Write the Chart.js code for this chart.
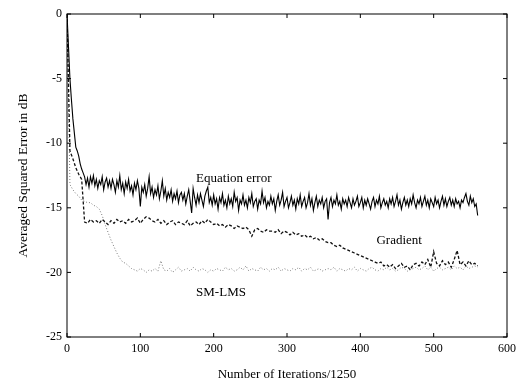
<!DOCTYPE html>
<html>
<head>
    <title>Averaged Squared Error</title>
    <style>
        body {
            background-color: #ffffff;
            margin: 0;
        }
        canvas {
            display: block;
        }
    </style>
</head>
<body>
    <canvas id="errorChart" width="521" height="385"></canvas>

    <script src="https://cdn.jsdelivr.net/npm/chart.js"></script>
    <script>
        // equation error is read every 2 iterations (x 1250), the other two every 4
        const iterationsFine = [
            0, 2, 4, 6, 8, 10, 12, 14, 16, 18,
            20, 22, 24, 26, 28, 30, 32, 34, 36, 38,
            40, 42, 44, 46, 48, 50, 52, 54, 56, 58,
            60, 62, 64, 66, 68, 70, 72, 74, 76, 78,
            80, 82, 84, 86, 88, 90, 92, 94, 96, 98,
            100, 102, 104, 106, 108, 110, 112, 114, 116, 118,
            120, 122, 124, 126, 128, 130, 132, 134, 136, 138,
            140, 142, 144, 146, 148, 150, 152, 154, 156, 158,
            160, 162, 164, 166, 168, 170, 172, 174, 176, 178,
            180, 182, 184, 186, 188, 190, 192, 194, 196, 198,
            200, 202, 204, 206, 208, 210, 212, 214, 216, 218,
            220, 222, 224, 226, 228, 230, 232, 234, 236, 238,
            240, 242, 244, 246, 248, 250, 252, 254, 256, 258,
            260, 262, 264, 266, 268, 270, 272, 274, 276, 278,
            280, 282, 284, 286, 288, 290, 292, 294, 296, 298,
            300, 302, 304, 306, 308, 310, 312, 314, 316, 318,
            320, 322, 324, 326, 328, 330, 332, 334, 336, 338,
            340, 342, 344, 346, 348, 350, 352, 354, 356, 358,
            360, 362, 364, 366, 368, 370, 372, 374, 376, 378,
            380, 382, 384, 386, 388, 390, 392, 394, 396, 398,
            400, 402, 404, 406, 408, 410, 412, 414, 416, 418,
            420, 422, 424, 426, 428, 430, 432, 434, 436, 438,
            440, 442, 444, 446, 448, 450, 452, 454, 456, 458,
            460, 462, 464, 466, 468, 470, 472, 474, 476, 478,
            480, 482, 484, 486, 488, 490, 492, 494, 496, 498,
            500, 502, 504, 506, 508, 510, 512, 514, 516, 518,
            520, 522, 524, 526, 528, 530, 532, 534, 536, 538,
            540, 542, 544, 546, 548, 550, 552, 554, 556, 558,
            560
        ];

        const iterations = [
            0, 4, 8, 12, 16, 20, 24, 28, 32, 36,
            40, 44, 48, 52, 56, 60, 64, 68, 72, 76,
            80, 84, 88, 92, 96, 100, 104, 108, 112, 116,
            120, 124, 128, 132, 136, 140, 144, 148, 152, 156,
            160, 164, 168, 172, 176, 180, 184, 188, 192, 196,
            200, 204, 208, 212, 216, 220, 224, 228, 232, 236,
            240, 244, 248, 252, 256, 260, 264, 268, 272, 276,
            280, 284, 288, 292, 296, 300, 304, 308, 312, 316,
            320, 324, 328, 332, 336, 340, 344, 348, 352, 356,
            360, 364, 368, 372, 376, 380, 384, 388, 392, 396,
            400, 404, 408, 412, 416, 420, 424, 428, 432, 436,
            440, 444, 448, 452, 456, 460, 464, 468, 472, 476,
            480, 484, 488, 492, 496, 500, 504, 508, 512, 516,
            520, 524, 528, 532, 536, 540, 544, 548, 552, 556,
            560
        ];

        const equationError = [
            0, -2.5, -5.0, -6.6, -8.1, -9.2, -10.3, -10.6, -11.0, -11.6,
            -12.0, -12.3, -12.6, -13.2, -12.7, -13.4, -12.6, -13.1, -12.5, -13.3,
            -12.8, -13.5, -12.9, -13.2, -12.6, -13.6, -13.0, -12.7, -13.4, -12.9,
            -13.5, -12.8, -13.2, -13.8, -12.9, -13.4, -12.5, -13.6, -13.1, -13.9,
            -13.0, -13.5, -12.8, -13.7, -13.3, -14.0, -13.1, -13.6, -12.9, -13.5,
            -14.9, -13.4, -13.8, -13.2, -14.1, -13.5, -12.6, -13.9, -13.4, -14.2,
            -13.6, -14.0, -13.3, -14.3, -13.7, -12.9, -14.1, -13.5, -14.4, -13.8,
            -14.2, -13.6, -14.5, -13.9, -14.3, -13.7, -14.6, -14.0, -13.8, -14.4,
            -13.9, -14.7, -14.1, -13.6, -14.5, -15.4, -13.5, -14.2, -14.8, -14.0,
            -14.6, -13.9, -14.4, -14.9, -14.1, -13.7, -13.4, -14.6, -14.2, -14.8,
            -14.0, -14.7, -14.3, -15.1, -14.2, -14.6, -13.9, -14.8, -14.4, -15.0,
            -14.1, -14.7, -14.3, -14.9, -13.8, -14.5, -14.2, -15.2, -14.4, -14.7,
            -14.0, -14.8, -14.4, -15.0, -14.2, -14.6, -13.9, -14.9, -14.5, -14.3,
            -15.1, -14.4, -14.7, -13.7, -14.6, -14.2, -15.0, -14.5, -14.8, -14.1,
            -14.7, -14.3, -15.2, -14.5, -14.0, -14.8, -14.4, -13.8, -14.9, -14.5,
            -14.2, -15.0, -14.6, -14.1, -14.8, -14.4, -15.1, -14.3, -14.7, -14.0,
            -14.9, -14.5, -14.2, -15.0, -14.6, -13.9, -14.8, -14.3, -15.2, -14.6,
            -14.1, -14.9, -14.4, -14.7, -14.2, -15.0, -14.5, -14.3, -15.9, -14.6,
            -14.2, -14.9, -14.4, -14.7, -14.0, -14.8, -14.5, -15.1, -14.3, -14.7,
            -14.4, -14.9, -14.2, -14.6, -15.0, -14.3, -14.8, -14.5, -14.1, -14.9,
            -14.6, -14.2, -15.0, -14.4, -14.8, -14.3, -14.7, -15.1, -14.5, -14.2,
            -14.9, -14.4, -14.7, -14.1, -15.0, -14.6, -14.3, -14.8, -14.5, -15.0,
            -14.3, -14.7, -14.2, -14.9, -14.5, -14.0, -14.8, -14.4, -15.1, -14.6,
            -14.2, -14.8, -14.4, -14.9, -14.3, -14.7, -14.0, -14.6, -15.0, -14.4,
            -14.7, -14.2, -14.9, -14.5, -14.1, -14.8, -14.4, -15.0, -14.3, -14.6,
            -14.9, -14.2, -14.7, -14.4, -15.0, -14.5, -14.1, -14.8, -14.3, -14.9,
            -14.5, -14.2, -14.8, -14.4, -14.9, -14.3, -14.7, -14.5, -15.0, -14.4,
            -14.6, -14.2, -13.9, -14.5, -14.8, -14.1, -14.6, -14.3, -14.9, -14.7,
            -15.6
        ];

        const gradient = [
            0, -10.6, -11.2, -11.9, -12.4, -12.8, -16.1, -16.2, -15.9, -16.1,
            -16.0, -16.2, -15.9, -16.1, -16.3, -16.0, -16.2, -15.9, -16.1, -16.0,
            -16.2, -15.9, -16.1, -16.0, -15.8, -16.2, -15.9, -15.7, -15.8, -16.0,
            -16.1, -15.9, -16.2, -16.0, -16.3, -16.1, -16.0, -16.3, -16.1, -16.2,
            -16.3, -16.0, -16.4, -16.2, -16.1, -16.3, -16.0, -16.2, -15.9, -16.1,
            -16.3, -16.2, -16.4, -16.3, -16.5, -16.3, -16.4, -16.6, -16.4, -16.5,
            -16.6, -16.5, -16.7, -17.2, -16.7, -16.6, -16.8, -16.9, -16.7, -16.8,
            -16.8, -16.9, -16.7, -17.0, -16.8, -16.9, -17.1, -16.9, -17.1, -17.0,
            -17.2, -17.1, -17.3, -17.2, -17.4, -17.3, -17.5, -17.4, -17.6, -17.7,
            -17.7, -17.9, -18.0, -17.9, -18.1, -18.2, -18.3, -18.4, -18.5, -18.6,
            -18.7, -18.8, -18.9, -19.0, -19.1, -19.2, -19.3, -19.2, -19.5, -19.4,
            -19.6, -19.4, -19.7, -19.5, -19.3, -19.6, -19.5, -19.8, -19.4, -19.3,
            -19.5, -19.2, -19.4, -19.0, -19.6, -18.4, -19.3, -19.5, -19.1, -19.4,
            -19.2, -19.6, -19.0, -18.3, -19.4, -19.2, -19.5, -19.1, -19.4, -19.3,
            -19.5
        ];

        const smLms = [
            0, -13.2, -13.6, -13.9, -14.1, -14.4, -14.5, -14.6, -14.6, -14.8,
            -14.9, -15.1, -15.6, -16.3, -16.9, -17.5, -18.0, -18.5, -18.9, -19.2,
            -19.3, -19.5, -19.7, -19.8, -19.9, -19.7, -19.8, -20.0, -19.8, -19.9,
            -19.7, -19.9, -19.1, -19.8, -19.9, -19.7, -20.0, -19.8, -19.6, -19.9,
            -19.8, -19.7, -19.9, -19.6, -19.8, -19.9, -19.7, -19.8, -20.0, -19.8,
            -19.9, -19.7, -19.8, -19.9, -19.6, -19.8, -19.7, -19.9, -19.8, -19.6,
            -19.8, -19.5, -19.9, -19.7, -19.8, -19.9, -19.6, -19.8, -19.7, -19.9,
            -19.7, -19.8, -19.6, -19.9, -19.7, -19.8, -19.9, -19.7, -19.8, -19.6,
            -19.9, -19.7, -19.8, -19.6, -19.9, -19.8, -19.7, -19.9, -19.8, -19.7,
            -19.8, -19.6, -19.9, -19.7, -19.8, -19.9, -19.7, -19.8, -19.6, -19.9,
            -19.7, -19.8, -19.9, -19.7, -19.6, -19.8, -19.9, -19.7, -19.8, -19.6,
            -19.8, -19.7, -19.9, -19.8, -19.6, -19.7, -19.9, -19.8, -19.7, -19.6,
            -19.8, -19.7, -19.5, -19.8, -19.6, -19.9, -19.7, -19.6, -19.8, -19.7,
            -19.6, -19.8, -19.5, -19.7, -19.6, -19.8, -19.5, -19.7, -19.6, -19.5,
            -19.6
        ];

        const xTicks = [0, 100, 200, 300, 400, 500, 600];
        const yTicks = [-25, -20, -15, -10, -5, 0];

        // curve labels, placed in data units
        const curveLabels = [
            { text: 'Equation error', x: 176, y: -12.75 },
            { text: 'Gradient', x: 422, y: -17.55 },
            { text: 'SM-LMS', x: 176, y: -21.6 }
        ];

        const serif = 'Liberation Serif';

        function toPoints(xs, values) {
            return values.map((v, i) => ({ x: xs[i], y: v }));
        }

        // box round the plot, inward ticks, curve labels
        const framePlugin = {
            id: 'frame',
            afterDraw(chart) {
                const ctx = chart.ctx;
                const xs = chart.scales.x;
                const ys = chart.scales.y;
                const l = xs.getPixelForValue(0), r = xs.getPixelForValue(600);
                const t = ys.getPixelForValue(0), b = ys.getPixelForValue(-25);
                ctx.save();
                ctx.strokeStyle = '#000';
                ctx.lineWidth = 1;
                ctx.strokeRect(l, t, r - l, b - t);
                ctx.beginPath();
                xTicks.forEach(v => {
                    const px = xs.getPixelForValue(v);
                    ctx.moveTo(px, b); ctx.lineTo(px, b - 4);
                    ctx.moveTo(px, t); ctx.lineTo(px, t + 4);
                });
                yTicks.forEach(v => {
                    const py = ys.getPixelForValue(v);
                    ctx.moveTo(l, py); ctx.lineTo(l + 4, py);
                    ctx.moveTo(r, py); ctx.lineTo(r - 4, py);
                });
                ctx.stroke();
                ctx.fillStyle = '#000';
                ctx.font = '13px "' + serif + '"';
                ctx.textAlign = 'left';
                ctx.textBaseline = 'middle';
                curveLabels.forEach(c => {
                    ctx.fillText(c.text, xs.getPixelForValue(c.x), ys.getPixelForValue(c.y));
                });
                ctx.restore();
            }
        };

        const ctx = document.getElementById('errorChart').getContext('2d');
        new Chart(ctx, {
            type: 'line',
            data: {
                datasets: [
                    {
                        label: 'Equation error',
                        data: toPoints(iterationsFine, equationError),
                        borderColor: '#000000',
                        borderWidth: 1.1
                    },
                    {
                        label: 'Gradient',
                        data: toPoints(iterations, gradient),
                        borderColor: '#111111',
                        borderWidth: 1.3,
                        borderDash: [3, 2]
                    },
                    {
                        label: 'SM-LMS',
                        data: toPoints(iterations, smLms),
                        borderColor: '#7a7a7a',
                        borderWidth: 1,
                        borderDash: [1, 2]
                    }
                ]
            },
            options: {
                responsive: false,
                animation: false,
                layout: {
                    padding: { top: 14, right: 12, left: 0, bottom: 0 }
                },
                elements: {
                    point: { radius: 0 },
                    line: { tension: 0 }
                },
                plugins: {
                    legend: { display: false },
                    tooltip: { enabled: false }
                },
                scales: {
                    x: {
                        type: 'linear',
                        min: 0,
                        max: 600,
                        afterFit: s => { s.height = 48; },
                        afterBuildTicks: s => { s.ticks = xTicks.map(v => ({ value: v })); },
                        grid: { display: false, drawTicks: false },
                        border: { display: false },
                        ticks: {
                            color: '#000',
                            padding: 5,
                            maxRotation: 0,
                            font: { family: serif, size: 12 }
                        },
                        title: {
                            display: true,
                            text: 'Number of Iterations/1250',
                            color: '#000',
                            font: { family: serif, size: 13 },
                            padding: { top: 0, bottom: 3 }
                        }
                    },
                    y: {
                        min: -25,
                        max: 0,
                        afterFit: s => { s.width = 67; },
                        afterBuildTicks: s => { s.ticks = yTicks.map(v => ({ value: v })); },
                        grid: { display: false, drawTicks: false },
                        border: { display: false },
                        ticks: {
                            color: '#000',
                            padding: 5,
                            font: { family: serif, size: 12 }
                        },
                        title: {
                            display: true,
                            text: 'Averaged Squared Error in dB',
                            color: '#000',
                            font: { family: serif, size: 13.5 },
                            padding: { top: 15, bottom: 0 }
                        }
                    }
                }
            },
            plugins: [framePlugin]
        });
    </script>
</body>
</html>
